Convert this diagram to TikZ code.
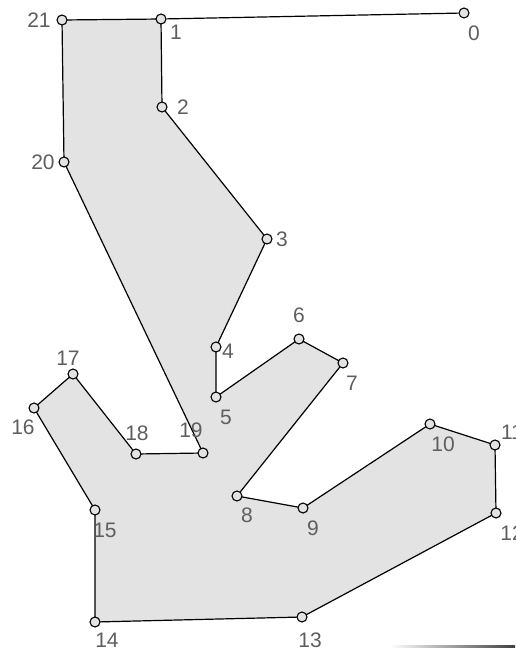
\documentclass[tikz,border=0pt]{standalone}
\usepackage{fontspec}
\setmainfont{Liberation Sans}
\definecolor{polyfill}{HTML}{E3E3E3}
\definecolor{labelgray}{HTML}{5E5E5E}
\tikzset{
  vtx/.style={circle,draw=black,line width=1.1pt,fill=polyfill,minimum size=10pt,inner sep=0pt},
  lbl/.style={text=labelgray,font=\fontsize{21}{21}\selectfont,inner sep=0pt},
  edge/.style={draw=black,line width=1.2pt}
}
\begin{document}
\begin{tikzpicture}[x=1pt,y=-1pt]
\useasboundingbox (0,0) rectangle (515,648);
% coordinates of the vertices
\coordinate (p0) at (464,13);
\coordinate (p1) at (161,19);
\coordinate (p2) at (162,107);
\coordinate (p3) at (267,239);
\coordinate (p4) at (216,347);
\coordinate (p5) at (216,397);
\coordinate (p6) at (299,339);
\coordinate (p7) at (343,363);
\coordinate (p8) at (237,496);
\coordinate (p9) at (303,508);
\coordinate (p10) at (430,424);
\coordinate (p11) at (495,445);
\coordinate (p12) at (496,513);
\coordinate (p13) at (302,617);
\coordinate (p14) at (95,622);
\coordinate (p15) at (95,510);
\coordinate (p16) at (34,408);
\coordinate (p17) at (73,374);
\coordinate (p18) at (136,454);
\coordinate (p19) at (203,453);
\coordinate (p20) at (64,162);
\coordinate (p21) at (62,20);
% polygon
\filldraw[fill=polyfill,edge] (p1) -- (p2) -- (p3) -- (p4) -- (p5) -- (p6) -- (p7) -- (p8) -- (p9) -- (p10) -- (p11) -- (p12) -- (p13) -- (p14) -- (p15) -- (p16) -- (p17) -- (p18) -- (p19) -- (p20) -- (p21) -- cycle;
% vertex markers
\foreach \i in {0,...,21} { \node[vtx] (v\i) at (p\i) {}; }
\draw[edge] (v0) -- (v1);
% labels
\foreach \i/\dx/\dy in {0/10/20, 1/15/13, 2/21/0, 3/15/0, 4/12/4, 5/10/20, 6/0/-24, 7/9/20, 8/10/19, 9/10/20, 10/13/20, 11/17/-13, 12/16/20, 13/8/23, 14/12/18, 15/10/20, 16/-11/19, 17/-5/-16, 18/1/-21, 19/-12/-23, 20/-21/0, 21/-23/0}
  { \node[lbl] (l\i) at ([shift={(\dx,\dy)}]p\i) {\i}; }
% scan shadow at the bottom edge
\shade[left color=white,right color=black!75] (390,645) rectangle (515,648);
\end{tikzpicture}
\end{document}
